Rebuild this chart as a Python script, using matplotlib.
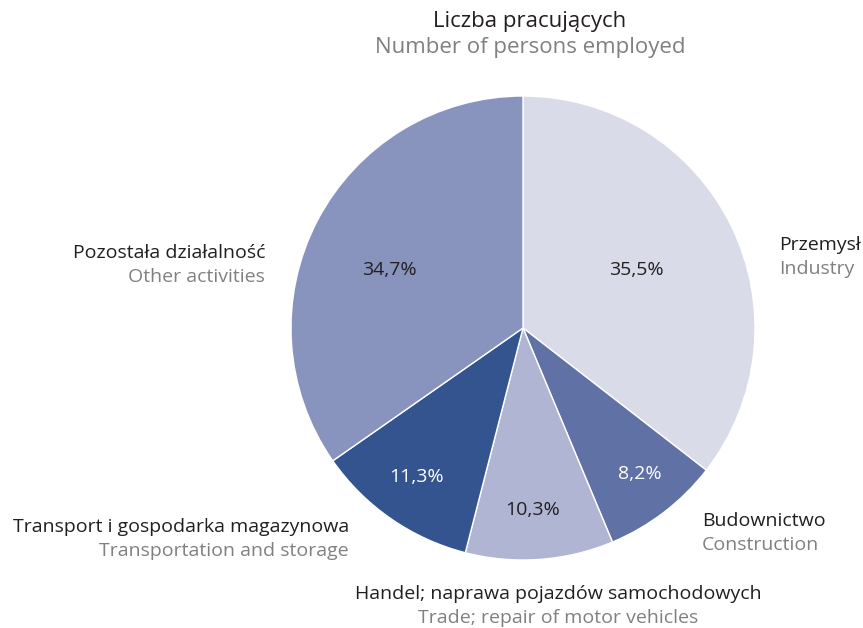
import matplotlib
matplotlib.use("Agg")
import matplotlib.pyplot as plt

# ============= Data ===================

labels_pl = ["Przemysł", "Budownictwo", "Handel; naprawa pojazdów samochodowych",
             "Transport i gospodarka magazynowa", "Pozostała działalność"]
labels_en = ["Industry", "Construction", "Trade; repair of motor vehicles",
             "Transportation and storage", "Other activities"]
shares = [35.5, 8.2, 10.3, 11.3, 34.7]
colors = ["#d9dbe9", "#5f71a5", "#b0b5d3", "#33548e", "#8894bd"]
pct_colors = ["#231f20", "white", "#231f20", "white", "#231f20"]

# label placement in pixels (x, y from top, alignment)
name_pos = [(779, 245, "left"), (702, 521, "left"), (558, 594, "center"),
            (349, 527, "right"), (265, 253, "right")]
pct_pos = [(636, 270), (640, 474), (533, 510), (416, 477), (389, 270)]

W, H = 863, 628
black = "#231f20"
grey = "#808080"

plt.rcParams['font.family'] = ['Open Sans', 'DejaVu Sans']

fig = plt.figure(figsize=(W / 100, H / 100), dpi=100)
cx, cy, r = 523, 328, 232
ax = fig.add_axes([(cx - r) / W, (H - cy - r) / H, 2 * r / W, 2 * r / H])
ax.pie(shares, colors=colors, startangle=90, counterclock=False, radius=1,
       wedgeprops=dict(edgecolor="white", linewidth=1))
ax.set_xlim(-1, 1)
ax.set_ylim(-1, 1)
ax.set_aspect("equal")
ax.axis("off")

def px(x, y):
    return x / W, 1 - y / H

fs = 14
fig.text(*px(530, 21), "Liczba pracujących", ha="center", va="center", fontsize=16, color=black)
fig.text(*px(530, 47), "Number of persons employed", ha="center", va="center", fontsize=16, color=grey)

for pl, en, (x, y, ha) in zip(labels_pl, labels_en, name_pos):
    fig.text(*px(x, y), pl, ha=ha, va="center", fontsize=fs, color=black)
    fig.text(*px(x, y + 24), en, ha=ha, va="center", fontsize=fs, color=grey)

for v, (x, y), c in zip(shares, pct_pos, pct_colors):
    fig.text(*px(x, y), f"{v:.1f}".replace(".", ",") + "%", ha="center", va="center",
             fontsize=fs, color=c)

fig.savefig("out.png", dpi=100)
